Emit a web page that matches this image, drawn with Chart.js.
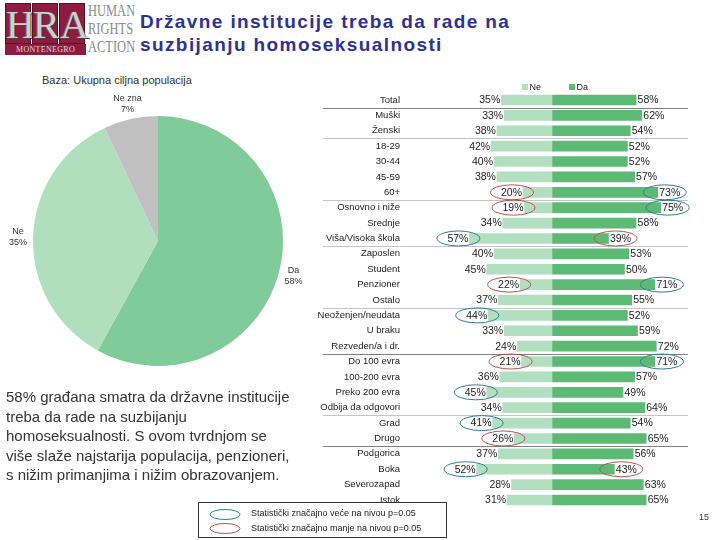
<!DOCTYPE html>
<html><head><meta charset="utf-8">
<script src="https://cdn.jsdelivr.net/npm/chart.js@4/dist/chart.umd.min.js"></script>
<style>
html,body{margin:0;padding:0;background:#fff;}
body{width:720px;height:540px;position:relative;overflow:hidden;font-family:"Liberation Sans",Arial,sans-serif;}
.abs{position:absolute;}
#logo .box{position:absolute;top:3px;height:41px;width:26px;background:#8e1b40;border:1px solid #5a0f28;box-sizing:border-box;color:#cfcfcf;font-family:"Liberation Serif",serif;font-size:40px;line-height:41px;text-align:center;text-shadow:1px 1px 0 #444,-1px 0 0 #666;}
#logo .strip{position:absolute;left:5px;top:44px;width:81px;height:11px;background:#8e1b40;color:#ddd;font-family:"Liberation Serif",serif;font-size:8px;line-height:11px;text-align:center;letter-spacing:0.3px;}
.hra{position:absolute;left:88px;font-family:"Liberation Serif",serif;font-size:16px;color:#8a8a8a;transform:scaleX(0.78);transform-origin:left top;line-height:16px;}
#title{left:140px;top:10px;font-weight:bold;font-size:19px;color:#2e3192;line-height:23px;letter-spacing:1.4px;white-space:nowrap;}
#baza{left:42px;top:74px;font-size:11px;color:#333;}
#para{left:6px;top:387px;font-size:15px;color:#333;line-height:19.5px;white-space:nowrap;}
#legbox{left:198px;top:502px;width:249px;height:36px;border:1px solid #333;box-sizing:border-box;font-size:9px;color:#222;}
#pnum{left:699px;top:512px;font-size:9px;color:#333;}
</style></head>
<body>
<div id="logo">
  <div class="box" style="left:5px;">H</div>
  <div class="box" style="left:32px;">R</div>
  <div class="box" style="left:59px;">A</div>
  <div class="strip">MONTENEGRO</div>
  <div class="hra" style="top:3px;">HUMAN</div>
  <div class="hra" style="top:21px;">RIGHTS</div>
  <div class="hra" style="top:39px;">ACTION</div>
</div>
<div id="title" class="abs">Državne institucije treba da rade na<br>suzbijanju homoseksualnosti</div>
<div id="baza" class="abs">Baza: Ukupna ciljna populacija</div>
<canvas id="pie" class="abs" width="300" height="300" style="left:8px;top:91px;"></canvas>
<div id="para" class="abs">58% građana smatra da državne institucije<br>treba da rade na suzbijanju<br>homoseksualnosti. S ovom tvrdnjom se<br>više slaže najstarija populacija, penzioneri,<br>s nižim primanjima i nižim obrazovanjem.</div>
<canvas id="bars" class="abs" width="405" height="430" style="left:305px;top:80px;"></canvas>
<div id="legbox" class="abs">
  <svg class="abs" style="left:0;top:0" width="60" height="36">
    <ellipse cx="26" cy="11.5" rx="15" ry="5" fill="none" stroke="#2a8090" stroke-width="1"/>
    <ellipse cx="26" cy="25.5" rx="15" ry="5" fill="none" stroke="#c0504d" stroke-width="1"/>
  </svg>
  <div class="abs" style="left:52px;top:5px;white-space:nowrap;">Statistički značajno veće na nivou p=0.05</div>
  <div class="abs" style="left:52px;top:20px;white-space:nowrap;">Statistički značajno manje na nivou p=0.05</div>
</div>
<div id="pnum" class="abs">15</div>
<script>
// ---- Pie data ----
const pieLabels = ['Da', 'Ne', 'Ne zna'];
const pieValues = [58, 35, 7];
const pieColors = ['#80cb9a', '#b0dfbd', '#c0c0c0'];

// ---- Bar data ----
const categories = ['Total','Muški','Ženski','18-29','30-44','45-59','60+','Osnovno i niže','Srednje','Viša/Visoka škola','Zaposlen','Student','Penzioner','Ostalo','Neoženjen/neudata','U braku','Rezveden/a i dr.','Do 100 evra','100-200 evra','Preko 200 evra','Odbija da odgovori','Grad','Drugo','Podgorica','Boka','Severozapad','Istok'];
const neValues = [35,33,38,42,40,38,20,19,34,57,40,45,22,37,44,33,24,21,36,45,34,41,26,37,52,28,31];
const daValues = [58,62,54,52,52,57,73,75,58,39,53,50,71,55,52,59,72,71,57,49,64,54,65,56,43,63,65];
// significance: 1 = significantly higher, -1 = significantly lower
const neSig = [0,0,0,0,0,0,-1,-1,0,1,0,0,-1,0,1,0,0,-1,0,1,0,1,-1,0,1,0,0];
const daSig = [0,0,0,0,0,0,1,1,0,-1,0,0,1,0,0,0,0,1,0,0,0,0,0,0,-1,0,0];
// separators after these category indexes: 'd' dark, 'l' light
const separators = [[0,'d'],[2,'l'],[6,'l'],[9,'l'],[13,'l'],[16,'d'],[20,'l'],[22,'d']];

const FONT = '"Liberation Sans", Arial, sans-serif';

const pieLabelPlugin = {
  id: 'pieLabels',
  afterDatasetsDraw(chart) {
    const ctx = chart.ctx;
    const meta = chart.getDatasetMeta(0);
    ctx.save();
    ctx.font = '9px ' + FONT;
    ctx.fillStyle = '#333';
    ctx.textAlign = 'center';
    ctx.textBaseline = 'middle';
    meta.data.forEach((arc, i) => {
      const mid = (arc.startAngle + arc.endAngle) / 2;
      const r = arc.outerRadius + 15;
      const x = arc.x + Math.cos(mid) * r;
      const y = arc.y + Math.sin(mid) * r;
      ctx.fillText(chart.data.labels[i], x, y - 5.5);
      ctx.fillText(chart.data.datasets[0].data[i] + '%', x, y + 5.5);
    });
    ctx.restore();
  }
};

new Chart(document.getElementById('pie'), {
  type: 'pie',
  data: { labels: pieLabels, datasets: [{ data: pieValues, backgroundColor: pieColors, borderWidth: 0 }] },
  options: {
    responsive: false, animation: false, devicePixelRatio: 1,
    radius: 125,
    plugins: { legend: { display: false }, tooltip: { enabled: false } }
  },
  plugins: [pieLabelPlugin]
});

const barDecor = {
  id: 'barDecor',
  beforeDatasetsDraw(chart) {
    const ctx = chart.ctx;
    const y = chart.scales.y;
    ctx.save();
    separators.forEach(([i, kind]) => {
      const py = Math.round((y.getPixelForValue(i) + y.getPixelForValue(i + 1)) / 2) + 0.5;
      ctx.strokeStyle = kind === 'd' ? '#808080' : '#c4c4c4';
      ctx.lineWidth = 1;
      ctx.beginPath();
      ctx.moveTo(18, py);
      ctx.lineTo(383, py);
      ctx.stroke();
    });
    ctx.restore();
  },
  afterDatasetsDraw(chart) {
    const ctx = chart.ctx;
    ctx.save();
    ctx.font = '10.5px ' + FONT;
    ctx.fillStyle = '#222';
    ctx.textBaseline = 'middle';
    const neMeta = chart.getDatasetMeta(0);
    const daMeta = chart.getDatasetMeta(1);
    neMeta.data.forEach((el, i) => {
      ctx.textAlign = 'right';
      ctx.fillText(neValues[i] + '%', el.x - 1, el.y + 0.5);
      if (neSig[i]) {
        ctx.strokeStyle = neSig[i] > 0 ? '#2a8090' : '#c0504d';
        ctx.lineWidth = 1;
        ctx.beginPath();
        ctx.ellipse(el.x - 11, el.y, 21.5, 7.5, 0, 0, Math.PI * 2);
        ctx.stroke();
      }
    });
    daMeta.data.forEach((el, i) => {
      ctx.textAlign = 'left';
      ctx.fillText(daValues[i] + '%', el.x + 1.5, el.y + 0.5);
      if (daSig[i]) {
        ctx.strokeStyle = daSig[i] > 0 ? '#2a8090' : '#c0504d';
        ctx.lineWidth = 1;
        ctx.beginPath();
        ctx.ellipse(el.x + 7, el.y, 21.5, 7.5, 0, 0, Math.PI * 2);
        ctx.stroke();
      }
    });
    // legend
    ctx.font = '9px ' + FONT;
    ctx.textAlign = 'left';
    const ly = 7;
    const items = [[217, 0], [264, 1]];
    items.forEach(([x, d]) => {
      const ds = chart.data.datasets[d];
      ctx.fillStyle = ds.backgroundColor;
      ctx.fillRect(x, ly - 3, 6, 6);
      ctx.fillStyle = '#222';
      ctx.fillText(ds.label, x + 7.5, ly + 0.5);
    });
    ctx.restore();
  }
};

new Chart(document.getElementById('bars'), {
  type: 'bar',
  data: {
    labels: categories,
    datasets: [
      { label: 'Ne', data: neValues.map(v => -v), backgroundColor: '#b2dfc0', barThickness: 10 },
      { label: 'Da', data: daValues, backgroundColor: '#5cba74', barThickness: 10 }
    ]
  },
  options: {
    indexAxis: 'y',
    responsive: false, animation: false, devicePixelRatio: 1,
    layout: { padding: { top: 12.3, bottom: 2.3, right: 16, left: 0 } },
    scales: {
      x: { display: false, stacked: true, min: -98, max: 98 },
      y: {
        stacked: true,
        afterFit(s) { s.width = 105; s.paddingTop = 0; s.paddingBottom = 0; },
        grid: { display: false, drawTicks: false },
        border: { display: false },
        ticks: { color: '#222', font: { size: 9.5, family: FONT }, padding: 10, autoSkip: false }
      }
    },
    plugins: { legend: { display: false }, tooltip: { enabled: false } }
  },
  plugins: [barDecor]
});
</script>
</body></html>
